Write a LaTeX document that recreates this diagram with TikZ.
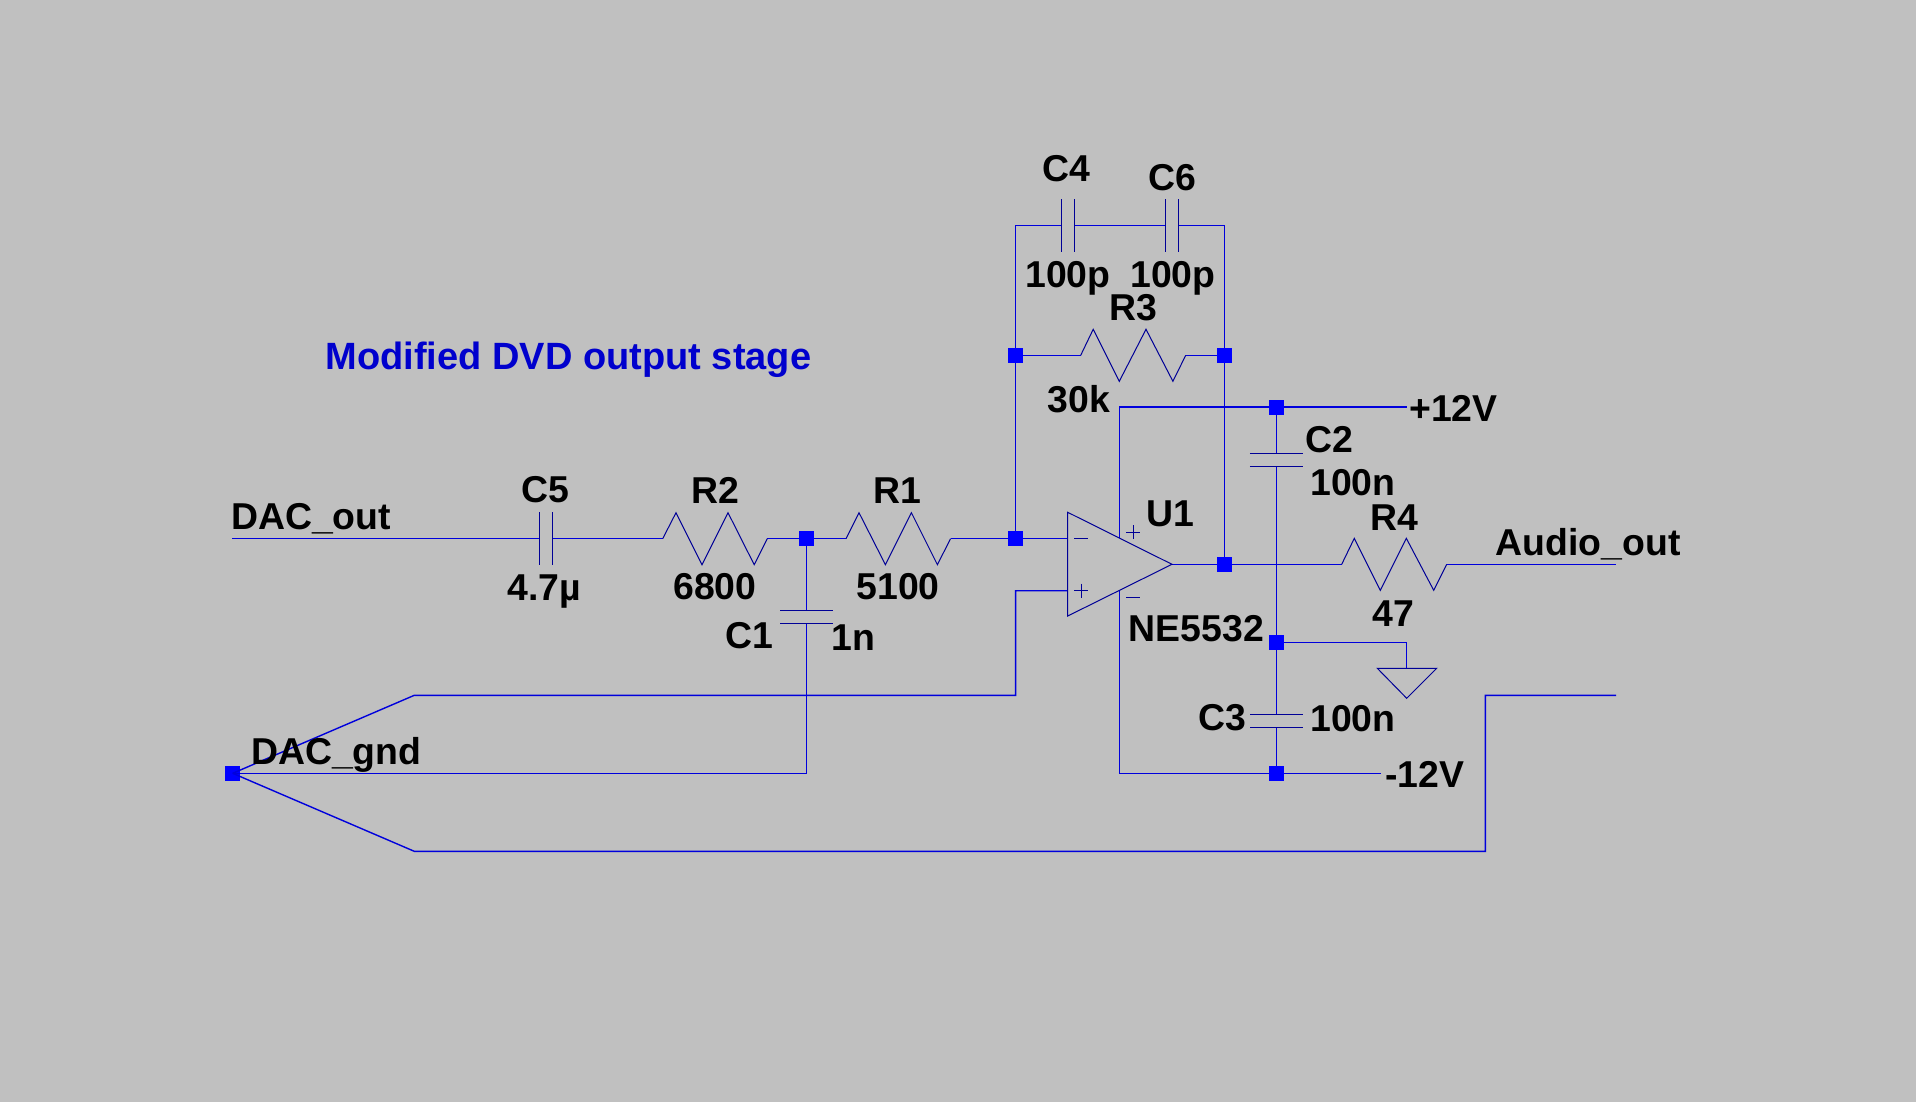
\documentclass[tikz,border=0pt]{standalone}
\usepackage{fontspec}
\setmainfont{Liberation Sans}
\definecolor{bgc}{RGB}{192,192,192}
\definecolor{wirec}{RGB}{0,0,220}
\definecolor{compc}{RGB}{0,0,150}
\definecolor{dotc}{RGB}{0,0,255}
\definecolor{titlec}{RGB}{0,0,205}
\tikzset{
  x=0.5pt,y=-0.5pt,
  wire/.style={draw=wirec,line width=0.7pt,line join=miter},
  comp/.style={draw=compc,line width=0.5pt,line join=miter},
  dot/.style={fill=dotc,draw=none,minimum size=7.5pt,inner sep=0pt,outer sep=0pt,rectangle},
  lbl/.style={anchor=base,inner sep=0pt,outer sep=0pt,yshift=-0.5pt,font=\fontsize{18.7}{18.7}\selectfont\bfseries,text=black},
  ttl/.style={anchor=base,inner sep=0pt,outer sep=0pt,yshift=-0.5pt,font=\fontsize{19}{19}\selectfont\bfseries,text=titlec},
}
\begin{document}
\begin{tikzpicture}
\useasboundingbox (0,0) rectangle (1916,1102);
\fill[bgc] (0,0) rectangle (1916,1102);
% junctions
\node[dot] (j1) at (806.3,538.7) {};
\node[dot] (j2) at (1015.6,538.7) {};
\node[dot] (j3) at (1015.6,355.3) {};
\node[dot] (j4) at (1224.7,355.3) {};
\node[dot] (j5) at (1224.7,564.3) {};
\node[dot] (j6) at (1276.4,407) {};
\node[dot] (j7) at (1276.4,642.7) {};
\node[dot] (j8) at (1276.4,773.3) {};
\node[dot] (j9) at (232.7,773.3) {};
% free ends and bends
\coordinate (in) at (232,538.7);
\coordinate (c5a) at (539.3,538.7);
\coordinate (c5b) at (552.3,538.7);
\coordinate (r2a) at (662.7,538.7);
\coordinate (r2b) at (767.3,538.7);
\coordinate (r1a) at (846,538.7);
\coordinate (r1b) at (950.5,538.7);
\coordinate (inm) at (1067.7,538.7);
\coordinate (inp) at (1067.7,590.7);
\coordinate (pb) at (1015.6,590.7);
\coordinate (pc) at (1015.6,695.3);
\coordinate (pd) at (414.3,695.3);
\coordinate (c1a) at (806.3,610.3);
\coordinate (c1b) at (806.3,623.3);
\coordinate (c1c) at (806.3,773.3);
\coordinate (be) at (414.3,851.3);
\coordinate (bf) at (1485.3,851.3);
\coordinate (bg) at (1485.3,695.3);
\coordinate (bh) at (1616,695.3);
\coordinate (tl) at (1015.6,225.3);
\coordinate (tr) at (1224.7,225.3);
\coordinate (c4a) at (1061.4,225.3);
\coordinate (c4b) at (1074.3,225.3);
\coordinate (c6a) at (1165.7,225.3);
\coordinate (c6b) at (1178.2,225.3);
\coordinate (r3a) at (1080.7,355.3);
\coordinate (r3b) at (1185.7,355.3);
\coordinate (opt) at (1172,564.3);
\coordinate (vpa) at (1119.3,538);
\coordinate (vpb) at (1119.3,407);
\coordinate (vpc) at (1406.8,407);
\coordinate (vma) at (1119.3,590.6);
\coordinate (vmb) at (1119.3,773.3);
\coordinate (vmc) at (1381,773.3);
\coordinate (c2a) at (1276.4,453.3);
\coordinate (c2b) at (1276.4,466.7);
\coordinate (c3a) at (1276.4,714.3);
\coordinate (c3b) at (1276.4,727.3);
\coordinate (r4a) at (1341.7,564.3);
\coordinate (r4b) at (1446.7,564.3);
\coordinate (aout) at (1616,564.3);
\coordinate (gb) at (1406.7,642.7);
\coordinate (gc) at (1406.7,668.3);
% wires
\draw[wire] (in) -- (c5a);
\draw[wire] (c5b) -- (r2a);
\draw[wire] (r2b) -- (j1);
\draw[wire] (j1) -- (r1a);
\draw[wire] (r1b) -- (j2);
\draw[wire] (j2) -- (inm);
\draw[wire] (j9.center) -- (pd) -- (pc) -- (pb) -- (inp);
\draw[wire] (j9.center) -- (c1c) -- (c1b);
\draw[wire] (c1a) -- (j1);
\draw[wire] (j9.center) -- (be) -- (bf) -- (bg) -- (bh);
\draw[wire] (j2) -- (j3);
\draw[wire] (j3) -- (tl) -- (c4a);
\draw[wire] (c4b) -- (c6a);
\draw[wire] (c6b) -- (tr) -- (j4);
\draw[wire] (j4) -- (j5);
\draw[wire] (j3) -- (r3a);
\draw[wire] (r3b) -- (j4);
\draw[wire] (opt) -- (j5);
\draw[wire] (j5) -- (r4a);
\draw[wire] (r4b) -- (aout);
\draw[wire] (vpa) -- (vpb) -- (j6);
\draw[wire] (j6) -- (vpc);
\draw[wire] (vma) -- (vmb) -- (j8);
\draw[wire] (j8) -- (vmc);
\draw[wire] (j6) -- (c2a);
\draw[wire] (c2b) -- (j7);
\draw[wire] (j7) -- (c3a);
\draw[wire] (c3b) -- (j8);
\draw[wire] (j7) -- (gb) -- (gc);
% resistors
\draw[comp] (r2a) -- ++(13.3,-26) -- ++(26,52) -- ++(26,-52) -- ++(26.2,52) -- (r2b);
\draw[comp] (r1a) -- ++(13,-26) -- ++(26.4,52) -- ++(26,-52) -- ++(26,52) -- (r1b);
\draw[comp] (r3a) -- ++(12.5,-26) -- ++(26.1,52) -- ++(26.7,-52) -- ++(26.9,52) -- (r3b);
\draw[comp] (r4a) -- ++(12.6,-26) -- ++(26,52) -- ++(26,-52) -- ++(27.4,52) -- (r4b);
% capacitors
\draw[comp] (539.3,512) -- (539.3,565) (552.3,512) -- (552.3,565);
\draw[comp] (780,610.3) -- (833,610.3) (780,623.3) -- (833,623.3);
\draw[comp] (1061.4,199) -- (1061.4,251.7) (1074.3,199) -- (1074.3,251.7);
\draw[comp] (1165.7,199) -- (1165.7,251.7) (1178.2,199) -- (1178.2,251.7);
\draw[comp] (1249.8,453.3) -- (1302.8,453.3) (1249.8,466.7) -- (1302.8,466.7);
\draw[comp] (1250,714.3) -- (1303,714.3) (1250,727.3) -- (1303,727.3);
% op amp
\draw[comp] (1067.7,512.3) -- (1172,564.3) -- (1067.7,616) -- cycle;
\draw[comp] (1074,538.7) -- (1088,538.7);
\draw[comp] (1074,590.5) -- (1088,590.5) (1081,583.5) -- (1081,597.5);
\draw[comp] (1126,532) -- (1140,532) (1133,525) -- (1133,539);
\draw[comp] (1126,597) -- (1140,597);
% ground
\draw[comp] (1377.3,668.3) -- (1436.7,668.3) -- (1406.7,698.3) -- cycle;
% labels
\node[ttl] (t0) at (568.4,368) {Modified DVD output stage};
\node[lbl] (t1) at (1066.5,180) {C4};
\node[lbl] (t2) at (1172.5,189) {C6};
\node[lbl] (t3) at (1068,286) {100p};
\node[lbl] (t4) at (1173,286) {100p};
\node[lbl] (t5) at (1133.5,319) {R3};
\node[lbl] (t6) at (1078.6,411.7) {30k};
\node[lbl] (t7) at (1453.4,420.7) {+12V};
\node[lbl] (t8) at (1329,451.7) {C2};
\node[lbl] (t9) at (1353,494.3) {100n};
\node[lbl] (t10) at (1170,525) {U1};
\node[lbl] (t11) at (1394.3,529) {R4};
\node[lbl] (t12) at (1393,625.7) {47};
\node[lbl] (t13) at (1196.3,640) {NE5532};
\node[lbl] (t14) at (1222.5,729.3) {C3};
\node[lbl] (t15) at (1353,730) {100n};
\node[lbl] (t16) at (1424.7,786.7) {-12V};
\node[lbl] (t17) at (1588,554.3) {Audio\_out};
\node[lbl] (t18) at (311,528.3) {DAC\_out};
\node[lbl] (t19) at (545.5,501.7) {C5};
\node[lbl] (t20) at (544.5,599.3) {4.7µ};
\node[lbl] (t21) at (336.3,763.3) {DAC\_gnd};
\node[lbl] (t22) at (715.5,502.7) {R2};
\node[lbl] (t23) at (715,598.3) {6800};
\node[lbl] (t24) at (897.2,502.7) {R1};
\node[lbl] (t25) at (898,598.3) {5100};
\node[lbl] (t26) at (749.5,647.3) {C1};
\node[lbl] (t27) at (853.8,649.3) {1n};
\end{tikzpicture}
\end{document}
